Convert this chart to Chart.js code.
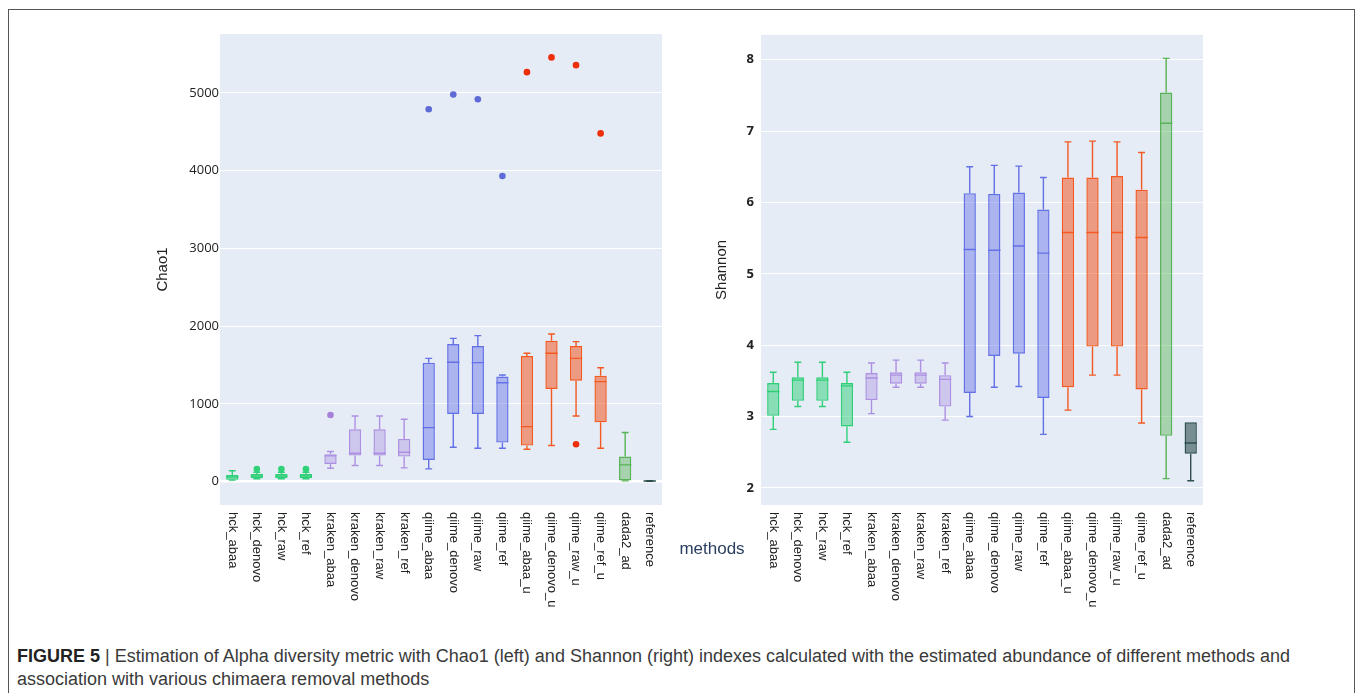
<!DOCTYPE html>
<html>
<head>
<meta charset="utf-8">
<script src="https://cdn.jsdelivr.net/npm/chart.js@4.4.0/dist/chart.umd.min.js"></script>
<style>
  html, body { margin: 0; padding: 0; background: #fff; }
  body { width: 1360px; height: 693px; position: relative; overflow: hidden; }
  .frame { position: absolute; left: 8px; top: 9px; width: 1347px; height: 690px; border: 1px solid #555; box-sizing: border-box; }
  .panel { position: absolute; top: 20px; height: 620px; }
  #left { left: 140px; width: 530px; }
  #right { left: 700px; width: 520px; }
  #xtitle { position: absolute; left: 712px; top: 549px; transform: translate(-50%, -50%);
    font: 17px "Liberation Sans", Arial, sans-serif; color: #2a3f5f; }
  #caption { position: absolute; left: 17px; top: 645px; width: 1310px;
    font: 18px "Liberation Sans", Arial, sans-serif; line-height: 23px; color: #3a3a3a; }
  #caption b { color: #222; }
</style>
</head>
<body>
<div class="frame"></div>
<div class="panel" id="left"><canvas id="chao"></canvas></div>
<div class="panel" id="right"><canvas id="shannon"></canvas></div>
<div id="xtitle">methods</div>
<div id="caption"><b>FIGURE 5</b> | Estimation of Alpha diversity metric with Chao1 (left) and Shannon (right) indexes calculated with the estimated abundance of different methods and association with various chimaera removal methods</div>
<script>
// Categorías (métodos)
const methods = ["hck_abaa", "hck_denovo", "hck_raw", "hck_ref",
  "kraken_abaa", "kraken_denovo", "kraken_raw", "kraken_ref",
  "qiime_abaa", "qiime_denovo", "qiime_raw", "qiime_ref",
  "qiime_abaa_u", "qiime_denovo_u", "qiime_raw_u", "qiime_ref_u",
  "dada2_ad", "reference"];
const groups = ["hck", "hck", "hck", "hck",
  "kraken", "kraken", "kraken", "kraken",
  "qiime", "qiime", "qiime", "qiime",
  "qiime_u", "qiime_u", "qiime_u", "qiime_u",
  "dada2", "reference"];

// Chao1
const chaoMin = [20, 35, 35, 35, 170, 206, 206, 176, 163, 441, 428, 428, 416, 463, 844, 428, 8, 4];
const chaoQ1  = [22, 42, 42, 42, 227, 334, 334, 321, 278, 870, 870, 501, 463, 1191, 1298, 763, 13, 5];
const chaoMed = [58, 72, 72, 72, 330, 364, 364, 377, 694, 1534, 1530, 1272, 707, 1650, 1585, 1285, 214, 7];
const chaoQ3  = [85, 97, 97, 97, 350, 673, 673, 548, 1530, 1770, 1744, 1350, 1615, 1812, 1744, 1362, 321, 9];
const chaoMax = [139, 120, 120, 120, 386, 844, 844, 801, 1585, 1842, 1877, 1371, 1650, 1898, 1800, 1465, 630, 10];
const chaoOutliers = [
  ["hck_denovo", 160], ["hck_raw", 160], ["hck_ref", 160], ["kraken_abaa", 857],
  ["qiime_abaa", 4790], ["qiime_denovo", 4980], ["qiime_raw", 4920], ["qiime_ref", 3932],
  ["qiime_abaa_u", 5268], ["qiime_denovo_u", 5458], ["qiime_raw_u", 5358], ["qiime_raw_u", 480],
  ["qiime_ref_u", 4480]
];
const chaoTicks = [0, 1000, 2000, 3000, 4000, 5000];

// Shannon
const shanMin = [2.82, 3.14, 3.14, 2.64, 3.04, 3.41, 3.41, 2.95, 3.00, 3.41, 3.42, 2.75, 3.09, 3.58, 3.58, 2.91, 2.13, 2.10];
const shanQ1  = [3.01, 3.22, 3.22, 2.86, 3.23, 3.46, 3.46, 3.14, 3.33, 3.85, 3.88, 3.26, 3.41, 3.98, 3.98, 3.38, 2.73, 2.48];
const shanMed = [3.35, 3.51, 3.51, 3.43, 3.54, 3.58, 3.58, 3.52, 5.34, 5.33, 5.39, 5.29, 5.58, 5.58, 5.58, 5.51, 7.11, 2.63];
const shanQ3  = [3.47, 3.55, 3.55, 3.47, 3.61, 3.62, 3.62, 3.58, 6.13, 6.12, 6.14, 5.90, 6.35, 6.35, 6.37, 6.18, 7.54, 2.92];
const shanMax = [3.62, 3.76, 3.76, 3.62, 3.75, 3.79, 3.79, 3.75, 6.50, 6.52, 6.51, 6.35, 6.85, 6.86, 6.85, 6.70, 8.02, 2.92];
const shanOutliers = [];
const shanTicks = [2, 3, 4, 5, 6, 7, 8];

// Colores por grupo
const lineColor = { hck: "#2fcf78", kraken: "#ad90e2", qiime: "#6470e6", qiime_u: "#f25a22", dada2: "#58b356", reference: "#2f4f4f" };
const dotColor  = { hck: "#2fd277", kraken: "#a780dc", qiime: "#5e6ad6", qiime_u: "#ee2e08", dada2: "#58b356", reference: "#2f4f4f" };
const fillAlpha = { hck: 0.5, kraken: 0.4, qiime: 0.45, qiime_u: 0.55, dada2: 0.45, reference: 0.6 };

function rgba(hex, a) {
  const n = parseInt(hex.slice(1), 16);
  return `rgba(${n >> 16},${(n >> 8) & 255},${n & 255},${a})`;
}

// Bigotes y mediana dibujados con las escalas del gráfico
const whiskers = {
  id: "whiskers",
  afterDatasetsDraw(chart, args, opts) {
    const { ctx } = chart;
    const y = chart.scales.y;
    const meta = chart.getDatasetMeta(0);
    ctx.save();
    meta.data.forEach((bar, i) => {
      const c = lineColor[groups[i]];
      const half = bar.width / 2;
      const cap = bar.width * 0.28;
      const pMin = y.getPixelForValue(opts.min[i]);
      const pQ1 = y.getPixelForValue(opts.q1[i]);
      const pMed = y.getPixelForValue(opts.med[i]);
      const pQ3 = y.getPixelForValue(opts.q3[i]);
      const pMax = y.getPixelForValue(opts.max[i]);
      ctx.strokeStyle = c;
      ctx.lineWidth = 1.4;
      ctx.beginPath();
      ctx.moveTo(bar.x, pQ3); ctx.lineTo(bar.x, pMax);
      ctx.moveTo(bar.x, pQ1); ctx.lineTo(bar.x, pMin);
      if (opts.max[i] > opts.q3[i]) { ctx.moveTo(bar.x - cap, pMax); ctx.lineTo(bar.x + cap, pMax); }
      if (opts.min[i] < opts.q1[i]) { ctx.moveTo(bar.x - cap, pMin); ctx.lineTo(bar.x + cap, pMin); }
      ctx.moveTo(bar.x - half, pMed); ctx.lineTo(bar.x + half, pMed);
      ctx.stroke();
    });
    ctx.restore();
  }
};

// Etiquetas del eje x giradas 90° (lectura de arriba hacia abajo) y título del eje y
const labelsPlugin = {
  id: "labelsPlugin",
  afterDraw(chart, args, opts) {
    const { ctx, chartArea } = chart;
    const x = chart.scales.x;
    ctx.save();
    ctx.fillStyle = "#222";
    ctx.font = '13px "Liberation Sans", Arial, sans-serif';
    ctx.textAlign = "left";
    ctx.textBaseline = "middle";
    methods.forEach((m, i) => {
      ctx.save();
      ctx.translate(x.getPixelForValue(i), chartArea.bottom + 7);
      ctx.rotate(Math.PI / 2);
      ctx.fillText(m, 0, 0);
      ctx.restore();
    });
    ctx.font = '15px "Liberation Sans", Arial, sans-serif';
    ctx.textAlign = "center";
    ctx.translate(opts.titleX, (chartArea.top + chartArea.bottom) / 2);
    ctx.rotate(-Math.PI / 2);
    ctx.fillText(opts.title, 0, 0);
    ctx.restore();
  }
};

function boxChart(id, cfg) {
  const outPts = cfg.outliers.map(([m, v]) => ({ x: m, y: v }));
  return new Chart(document.getElementById(id), {
    type: "bar",
    data: {
      labels: methods,
      datasets: [{
        data: methods.map((m, i) => [cfg.q1[i], cfg.q3[i]]),
        backgroundColor: groups.map(g => rgba(lineColor[g], fillAlpha[g])),
        borderColor: groups.map(g => lineColor[g]),
        borderWidth: 1.4,
        borderSkipped: false,
        categoryPercentage: 1,
        barPercentage: 0.5,
        order: 1
      }, {
        type: "line",
        data: outPts,
        showLine: false,
        pointRadius: 3.3,
        pointBorderWidth: 0,
        pointBackgroundColor: cfg.outliers.map(([m]) => dotColor[groups[methods.indexOf(m)]]),
        order: 0
      }]
    },
    options: {
      responsive: true,
      maintainAspectRatio: false,
      animation: false,
      layout: { padding: { top: 14, right: cfg.padRight, left: 0, bottom: 0 } },
      plugins: {
        legend: { display: false },
        tooltip: { enabled: false },
        whiskers: { min: cfg.min, q1: cfg.q1, med: cfg.med, q3: cfg.q3, max: cfg.max },
        labelsPlugin: { title: cfg.title, titleX: cfg.titleX }
      },
      scales: {
        x: {
          grid: { display: false },
          border: { display: false },
          ticks: { display: false },
          afterFit: s => { s.height = 135; }
        },
        y: {
          min: cfg.yMin,
          max: cfg.yMax,
          afterBuildTicks: s => { s.ticks = cfg.ticks.map(v => ({ value: v })); },
          afterFit: s => { s.width = cfg.yWidth; },
          grid: {
            color: "#ffffff",
            lineWidth: c => (c.tick && c.tick.value === 0 ? 2.5 : 1),
            drawTicks: false
          },
          border: { display: false },
          ticks: {
            padding: cfg.tickPad,
            color: "#222222",
            font: { family: '"Open Sans", sans-serif', size: 13, weight: cfg.tickWeight },
            callback: v => String(v)
          }
        }
      }
    },
    plugins: [{
      id: "bg",
      beforeDraw(chart) {
        const { ctx, chartArea: a } = chart;
        ctx.save();
        ctx.fillStyle = "#e5ecf6";
        ctx.fillRect(a.left, a.top, a.right - a.left, a.bottom - a.top);
        ctx.restore();
      }
    }, whiskers, labelsPlugin]
  });
}

boxChart("chao", {
  min: chaoMin, q1: chaoQ1, med: chaoMed, q3: chaoQ3, max: chaoMax,
  outliers: chaoOutliers, ticks: chaoTicks,
  yMin: -302, yMax: 5759, yWidth: 80, padRight: 8, tickPad: 1, tickWeight: "normal",
  title: "Chao1", titleX: 23
});

boxChart("shannon", {
  min: shanMin, q1: shanQ1, med: shanMed, q3: shanQ3, max: shanMax,
  outliers: shanOutliers, ticks: shanTicks,
  yMin: 1.76, yMax: 8.35, yWidth: 61, padRight: 17, tickPad: 7, tickWeight: "bold",
  title: "Shannon", titleX: 22
});
</script>
</body>
</html>
